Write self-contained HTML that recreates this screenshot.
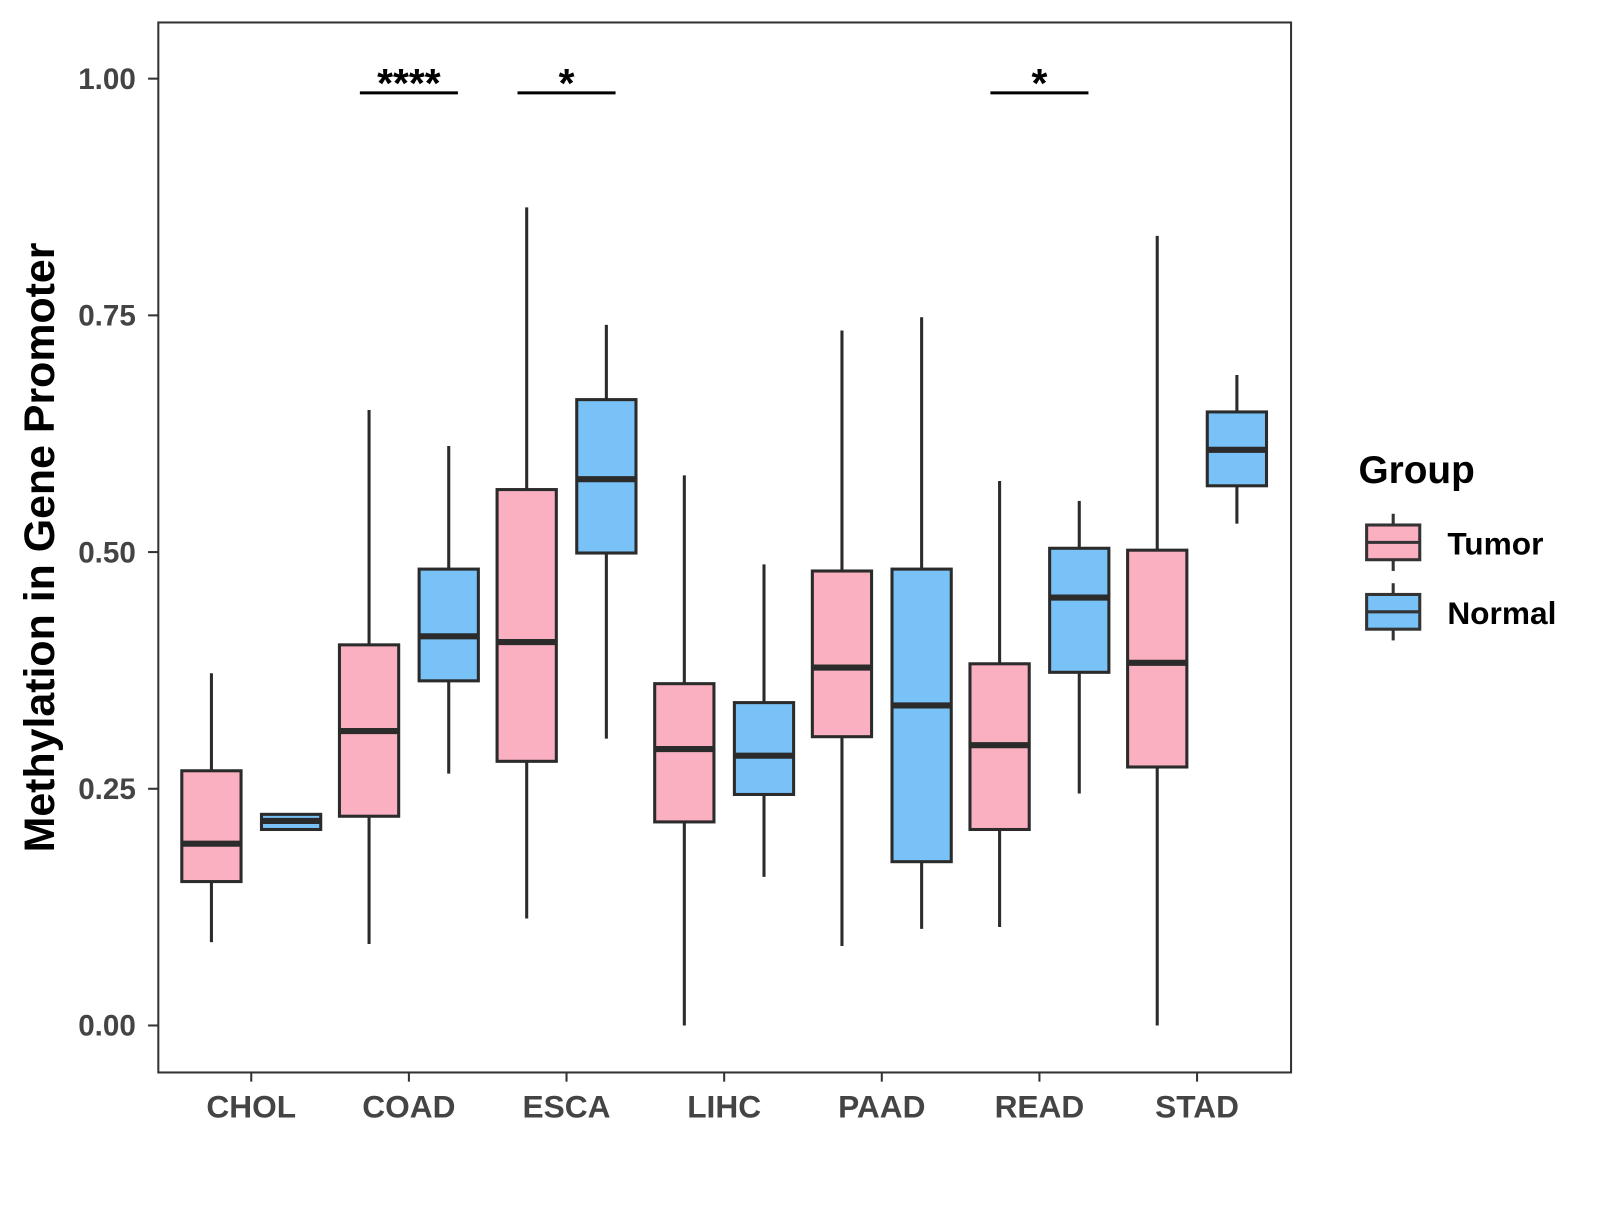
<!DOCTYPE html>
<html><head><meta charset="utf-8"><style>
html,body{margin:0;padding:0;background:#fff;}
svg text{font-family:"Liberation Sans",Arial,sans-serif;font-weight:bold;}
</style></head><body>
<svg id="chart" width="1600" height="1200" viewBox="0 0 1600 1200" xmlns="http://www.w3.org/2000/svg">
<g transform="scale(1.0214)">
<rect x="155" y="22" width="1109" height="1028" fill="#fff" stroke="#333" stroke-width="2"/>
<g id="marks"></g>
<text transform="translate(53,536) rotate(-90)" text-anchor="middle" font-size="42" fill="#000">Methylation in Gene Promoter</text>
<g>
<text x="1330" y="473" font-size="38" fill="#000">Group</text>
<g>
<line x1="1364" y1="503" x2="1364" y2="559" stroke="#333" stroke-width="3"/>
<rect x="1338" y="514" width="52" height="34" fill="#FBB0C2" stroke="#333" stroke-width="3"/>
<line x1="1338" y1="531" x2="1390" y2="531" stroke="#333" stroke-width="3"/>
<text x="1417" y="543" font-size="31" fill="#000">Tumor</text></g>
<g>
<line x1="1364" y1="571" x2="1364" y2="627" stroke="#333" stroke-width="3"/>
<rect x="1338" y="582" width="52" height="34" fill="#79C2F7" stroke="#333" stroke-width="3"/>
<line x1="1338" y1="599" x2="1390" y2="599" stroke="#333" stroke-width="3"/>
<text x="1417" y="611" font-size="31" fill="#000">Normal</text></g>
</g>
</g>
</svg>
<script>
const categories=["CHOL","COAD","ESCA","LIHC","PAAD","READ","STAD"];
const tumorMin=[0.088,0.086,0.113,0,0.084,0.104,0];
const tumorQ1=[0.152,0.221,0.279,0.215,0.305,0.207,0.273];
const tumorMed=[0.192,0.311,0.405,0.292,0.378,0.296,0.383];
const tumorQ3=[0.269,0.402,0.566,0.361,0.480,0.382,0.502];
const tumorMax=[0.372,0.650,0.864,0.581,0.734,0.575,0.834];
const normalMin=[0.207,0.266,0.303,0.157,0.102,0.245,0.530];
const normalQ1=[0.207,0.364,0.499,0.244,0.173,0.373,0.570];
const normalMed=[0.216,0.411,0.577,0.285,0.338,0.452,0.608];
const normalQ3=[0.223,0.482,0.661,0.341,0.482,0.504,0.648];
const normalMax=[0.223,0.612,0.740,0.487,0.748,0.554,0.687];
const yTicks=[0,0.25,0.5,0.75,1];
const yTickLabels=["0.00","0.25","0.50","0.75","1.00"];
const sigCats=["COAD","ESCA","READ"];
const sigLabels=["****","*","*"];
const sigY=0.985;
const NS="http://www.w3.org/2000/svg";
const g=document.getElementById('marks');
function y(v){return 1004-v*927;}
function x(i){return 246+i*154.33;}
function mk(tag,a,parent){const e=document.createElementNS(NS,tag);for(const k in a)e.setAttribute(k,a[k]);(parent||g).appendChild(e);return e;}
yTicks.forEach((t,i)=>{
  const l=mk('line',{x1:145,x2:155,y1:y(t),y2:y(t),stroke:'#333','stroke-width':2});
  
  
  const tx=mk('text',{x:133,y:y(t)+10,'text-anchor':'end','font-size':29,fill:'#444'});
  tx.textContent=yTickLabels[i];
  
  
});
categories.forEach((c,i)=>{
  const l=mk('line',{x1:x(i),x2:x(i),y1:1050,y2:1059,stroke:'#333','stroke-width':2});
  
  
  const tx=mk('text',{x:x(i),y:1094,'text-anchor':'middle','font-size':31,fill:'#444'});
  tx.textContent=c;
  
  
});
function box(cx,mn,q1,md,q3,mx,fill,name){
  const gr=mk('g',{});
  
  
  mk('line',{x1:cx,x2:cx,y1:y(mx),y2:y(q3),stroke:'#2b2b2b','stroke-width':3},gr);
  mk('line',{x1:cx,x2:cx,y1:y(q1),y2:y(mn),stroke:'#2b2b2b','stroke-width':3},gr);
  mk('rect',{x:cx-29,y:y(q3),width:58,height:Math.max(y(q1)-y(q3),1),fill:fill,stroke:'#2b2b2b','stroke-width':3},gr);
  mk('line',{x1:cx-29,x2:cx+29,y1:y(md),y2:y(md),stroke:'#2b2b2b','stroke-width':6},gr);
}
categories.forEach((c,i)=>{
  box(x(i)-39,tumorMin[i],tumorQ1[i],tumorMed[i],tumorQ3[i],tumorMax[i],'#FBB0C2','box-tumor-'+c.toLowerCase());
  box(x(i)+39,normalMin[i],normalQ1[i],normalMed[i],normalQ3[i],normalMax[i],'#79C2F7','box-normal-'+c.toLowerCase());
});
sigCats.forEach((c,k)=>{
  const i=categories.indexOf(c);
  const l=mk('line',{x1:x(i)-48,x2:x(i)+48,y1:y(sigY),y2:y(sigY),stroke:'#000','stroke-width':3});
  
  
  const t=mk('text',{x:x(i),y:y(sigY)+4,'text-anchor':'middle','font-size':40,fill:'#000'});
  t.textContent=sigLabels[k];
  
  
});
</script>
</body></html>
